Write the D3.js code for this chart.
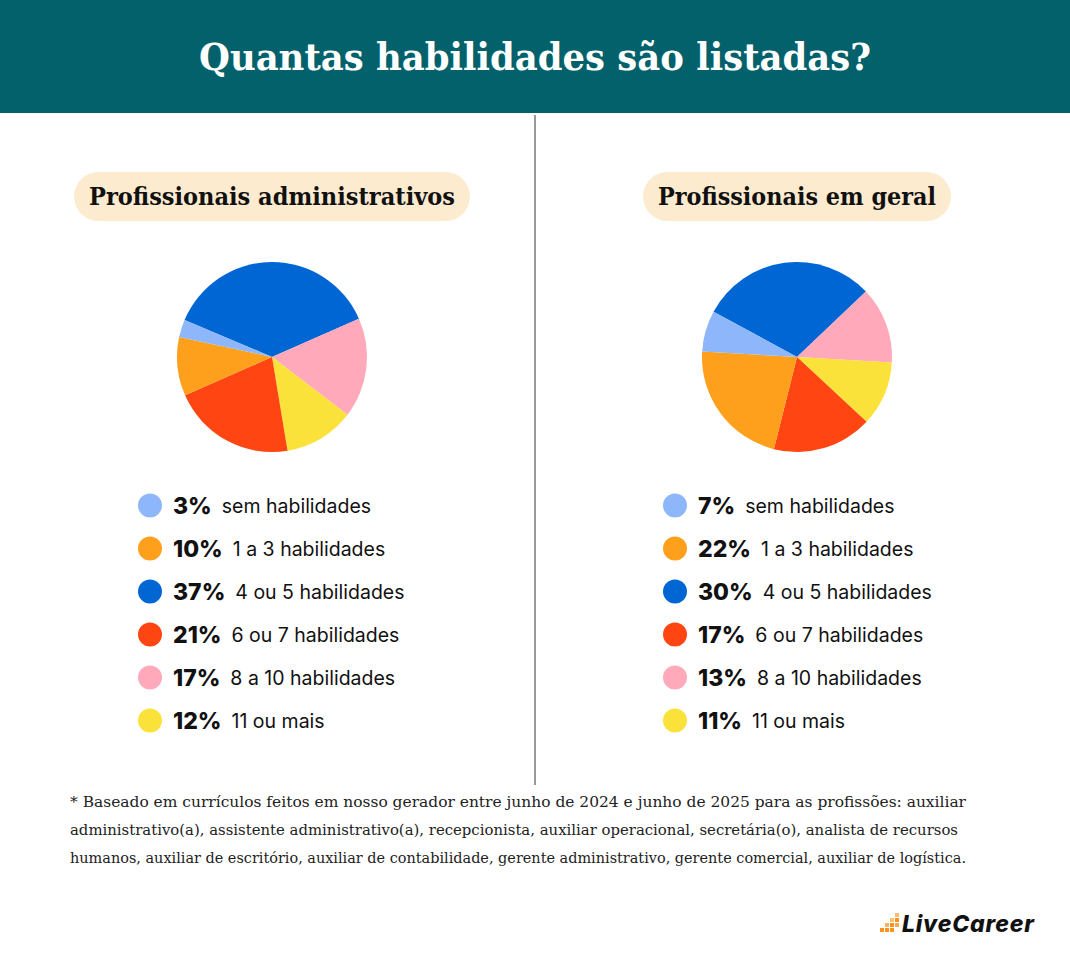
<!DOCTYPE html>
<html><head><meta charset="utf-8">
<script src="https://cdn.jsdelivr.net/npm/d3@7"></script>
<style>body{margin:0;background:#fff}svg{display:block}</style>
</head><body>
<svg id="c" width="1070" height="957"></svg>
<script>
const categories = ['sem habilidades', '1 a 3 habilidades', '4 ou 5 habilidades', '6 ou 7 habilidades', '8 a 10 habilidades', '11 ou mais'];
const colors = ['#8db7fa', '#ffa01c', '#0066d4', '#ff4612', '#ffa9ba', '#fbe23a'];
const adminValues = [3, 10, 37, 21, 17, 12];
const geralValues = [7, 22, 30, 17, 13, 11];
// clockwise drawing order of slices, starting with the blue one
const drawOrder = [2, 4, 5, 3, 1, 0];

const svg = d3.select('#c');
const serif = '"DejaVu Serif", "Liberation Serif", serif';
const sans = 'Inter, Roboto, sans-serif';

svg.append('rect').attr('width', 1070).attr('height', 113).attr('fill', '#03616c');
svg.append('text').attr('x', 535).attr('y', 70).attr('text-anchor', 'middle')
  .attr('fill', '#fff').attr('font-family', serif).attr('font-weight', 700)
  .attr('font-size', 38).attr('textLength', 672).attr('lengthAdjust', 'spacingAndGlyphs')
  .text('Quantas habilidades são listadas?');

svg.append('line').attr('x1', 535).attr('x2', 535).attr('y1', 115).attr('y2', 785)
  .attr('stroke', '#555').attr('stroke-width', 1.2);

const arc = d3.arc().innerRadius(0).outerRadius(95);

function panel(cx, title, pillW, textW, values, startDeg) {
  const g = svg.append('g');
  g.append('rect').attr('x', cx - pillW / 2).attr('y', 172).attr('width', pillW).attr('height', 49)
    .attr('rx', 24.5).attr('fill', '#fdebd0');
  g.append('text').attr('x', cx).attr('y', 205).attr('text-anchor', 'middle')
    .attr('font-family', serif).attr('font-weight', 700).attr('font-size', 24)
    .attr('textLength', textW).attr('lengthAdjust', 'spacingAndGlyphs')
    .attr('fill', '#111').text(title);

  const start = startDeg * Math.PI / 180;
  const pie = d3.pie().sort(null).value(i => values[i])
    .startAngle(start).endAngle(start + 2 * Math.PI);
  g.append('g').attr('transform', `translate(${cx},357)`)
    .selectAll('path').data(pie(drawOrder)).join('path')
    .attr('d', arc).attr('fill', d => colors[d.data]);

  const y = d3.scaleBand().domain(categories).range([484, 742]);
  const leg = g.selectAll('g.l').data(categories).join('g')
    .attr('transform', d => `translate(${cx - 122},${y(d) + y.bandwidth() / 2})`);
  leg.append('circle').attr('r', 12).attr('cx', 0).attr('fill', (d, i) => colors[i]);
  leg.each(function (d, i) {
    const t = d3.select(this).append('text').attr('x', 23).attr('y', 8);
    t.append('tspan').attr('font-family', sans).attr('font-weight', 800).attr('font-size', 23)
      .attr('fill', '#111').text(values[i] + '%');
    t.append('tspan').attr('dx', 10).attr('dy', -1).attr('font-family', sans).attr('font-size', 19.5)
      .attr('fill', '#111').text(d);
  });
}
panel(272, 'Profissionais administrativos', 396, 366, adminValues, -67);
panel(797, 'Profissionais em geral', 308, 278, geralValues, -61.5);

const notes = [
  '* Baseado em currículos feitos em nosso gerador entre junho de 2024 e junho de 2025 para as profissões: auxiliar',
  'administrativo(a), assistente administrativo(a), recepcionista, auxiliar operacional, secretária(o), analista de recursos',
  'humanos, auxiliar de escritório, auxiliar de contabilidade, gerente administrativo, gerente comercial, auxiliar de logística.'
];
const noteW = [896, 888, 896];
svg.selectAll('text.n').data(notes).join('text')
  .attr('x', 70).attr('y', (d, i) => 807 + i * 28)
  .attr('font-family', serif).attr('font-size', 14).attr('fill', '#222')
  .attr('textLength', (d, i) => noteW[i]).attr('lengthAdjust', 'spacingAndGlyphs').text(d => d);

// logo
const logo = svg.append('g').attr('transform', 'translate(880,932)');
[[0, 0, 1], [5, 0, 1], [5, -5, 0.7], [10, 0, 1], [10, -5, 1], [10, -10, 0.6], [15, -5, 0.8], [15, -10, 1], [15, -15, 0.6]]
  .forEach(p => logo.append('rect').attr('x', p[0]).attr('y', p[1] - 4).attr('width', 4).attr('height', 4)
    .attr('fill', '#f7931e').attr('opacity', p[2]));
logo.append('text').attr('x', 22).attr('y', 0).attr('font-family', sans).attr('font-weight', 800)
  .attr('font-style', 'italic').attr('font-size', 23).attr('textLength', 132).attr('fill', '#111').text('LiveCareer');
</script>
</body></html>
